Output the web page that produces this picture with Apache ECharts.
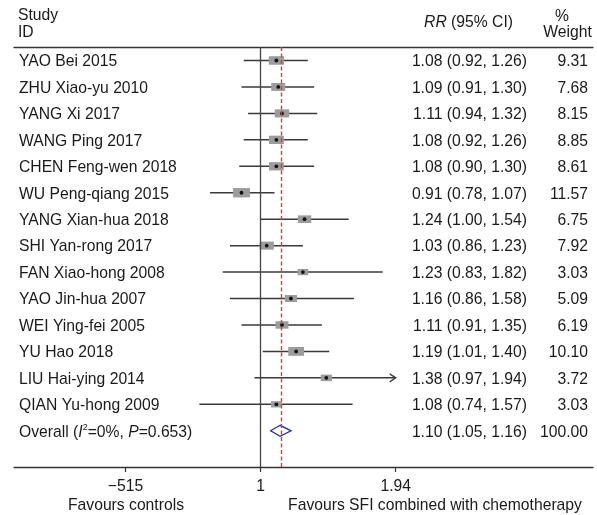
<!DOCTYPE html>
<html><head><meta charset="utf-8">
<script src="https://cdn.jsdelivr.net/npm/echarts@6/dist/echarts.min.js"></script>
<style>html,body{margin:0;padding:0;background:#fff}#c{width:597px;height:515px}</style>
</head><body><div id="c"></div>
<script>
// ---- data ----
const studies = ["YAO Bei 2015","ZHU Xiao-yu 2010","YANG Xi 2017","WANG Ping 2017","CHEN Feng-wen 2018","WU Peng-qiang 2015","YANG Xian-hua 2018","SHI Yan-rong 2017","FAN Xiao-hong 2008","YAO Jin-hua 2007","WEI Ying-fei 2005","YU Hao 2018","LIU Hai-ying 2014","QIAN Yu-hong 2009"];
const rr     = [1.08,1.09,1.11,1.08,1.08,0.91,1.24,1.03,1.23,1.16,1.11,1.19,1.38,1.08];
const lower  = [0.92,0.91,0.94,0.92,0.90,0.78,1.00,0.86,0.83,0.86,0.91,1.01,0.97,0.74];
const upper  = [1.26,1.30,1.32,1.26,1.30,1.07,1.54,1.23,1.82,1.58,1.35,1.40,1.94,1.57];
const weights = [9.31,7.68,8.15,8.85,8.61,11.57,6.75,7.92,3.03,5.09,6.19,10.10,3.72,3.03];
const arrowRight = [false,false,false,false,false,false,false,false,false,false,false,false,true,false];
const overallRR = 1.10, overallLower = 1.05, overallUpper = 1.16, overallWeight = 100.00;
const hetI2 = "0%", hetP = "0.653";
const tickValues = [0.515, 1, 1.94];
const tickLabels = ["\u2212515", "1", "1.94"];

// ---- layout ----
const FONT = "Liberation Sans";
const FS = 15.7;
const XMIN = -1.2110, XMAX = 1.6311;
const fmt2 = v => v.toFixed(2);
const ciText = (r,l,u) => fmt2(r) + " (" + fmt2(l) + ", " + fmt2(u) + ")";

const nRows = studies.length;
const studyData = studies.map((s,i) => [Math.log(rr[i]), Math.log(lower[i]), Math.log(upper[i]), weights[i], i, arrowRight[i] ? 1 : 0]);
const tableData = studies.map((s,i) => [0, i]);
tableData.push([0, nRows]);

const chart = echarts.init(document.getElementById('c'), null, {renderer:'canvas'});

const textStyleBase = {fontFamily: FONT, fontSize: FS, fill: '#1a1a1a'};

chart.setOption({
  animation: false,
  backgroundColor: '#fff',
  grid: {left: 14, right: 4, top: 47, bottom: 48},
  xAxis: [{
    type: 'value', min: XMIN, max: XMAX, position: 'bottom',
    axisLine: {show: true, onZero: false, lineStyle: {color: '#333', width: 1.3}},
    axisTick: {show: true, customValues: tickValues.map(Math.log), length: 5, lineStyle: {color: '#333', width: 1.2}},
    axisLabel: {show: true, customValues: tickValues.map(Math.log), margin: 12,
      fontFamily: FONT, fontSize: FS, color: '#1a1a1a',
      formatter: v => { let k = tickValues.findIndex(t => Math.abs(Math.log(t) - v) < 1e-6); return k >= 0 ? tickLabels[k] : ''; }},
    splitLine: {show: false}
  }, {
    type: 'value', min: XMIN, max: XMAX, position: 'top',
    axisLine: {show: true, onZero: false, lineStyle: {color: '#333', width: 1.3}},
    axisTick: {show: false}, axisLabel: {show: false}, splitLine: {show: false}
  }],
  yAxis: {type: 'value', min: -0.51, max: 15.37, inverse: true, show: false},
  series: [
    { // null line
      type: 'scatter', data: [], z: 1, silent: true,
      markLine: {silent: true, symbol: 'none', label: {show: false},
        lineStyle: {color: '#444', width: 1.3, type: 'solid'},
        data: [{xAxis: Math.log(1)}]}
    },
    { // studies
      type: 'custom', z: 2, data: studyData, encode: {x: [0,1,2], y: 4},
      renderItem: (params, api) => {
        const i = api.value(4);
        const c = api.coord([api.value(0), i]);
        const l = api.coord([api.value(1), i])[0];
        const u = api.coord([api.value(2), i])[0];
        const w = api.value(3);
        const bw = 8.5 + 0.72 * w, bh = 5.2 + 0.36 * w;
        const children = [
          {type: 'line', shape: {x1: l, y1: c[1], x2: u, y2: c[1]}, style: {stroke: '#3a3a3a', lineWidth: 1.5}},
          {type: 'rect', shape: {x: c[0] - bw/2, y: c[1] - bh/2, width: bw, height: bh}, style: {fill: '#9c9c9c'}},
          {type: 'circle', shape: {cx: c[0], cy: c[1], r: 1.9}, style: {fill: '#111'}}
        ];
        if (api.value(5) === 1) {
          children.push({type: 'polyline', shape: {points: [[u - 6, c[1] - 4], [u, c[1]], [u - 6, c[1] + 4]]}, style: {stroke: '#3a3a3a', lineWidth: 1.3, fill: null}});
        }
        return {type: 'group', children};
      }
    },
    { // overall line (red dashed)
      type: 'scatter', data: [], z: 3, silent: true,
      markLine: {silent: true, symbol: 'none', label: {show: false},
        lineStyle: {color: '#e23b33', width: 1.4, type: [4, 2.5]},
        data: [{xAxis: Math.log(overallRR)}]}
    },
    { // overall diamond
      type: 'custom', z: 4,
      data: [[Math.log(overallRR), Math.log(overallLower), Math.log(overallUpper), nRows]],
      encode: {x: [0,1,2], y: 3},
      renderItem: (params, api) => {
        const y = api.value(3);
        const c = api.coord([api.value(0), y]);
        const l = api.coord([api.value(1), y])[0];
        const u = api.coord([api.value(2), y])[0];
        const h = 5.5;
        return {type: 'polygon', shape: {points: [[l, c[1]], [c[0], c[1] - h], [u, c[1]], [c[0], c[1] + h]]},
          style: {stroke: '#2a3598', lineWidth: 1.4, fill: null}};
      }
    },
    { // table text
      type: 'custom', z: 5, data: tableData, encode: {y: 1},
      renderItem: (params, api) => {
        const i = api.value(1);
        const y = api.coord([0, i])[1] + 1.5;
        let name, ci, wt;
        if (i < nRows) {
          name = {type: 'text', x: 19, y: y, style: Object.assign({text: studies[i], textAlign: 'left', textVerticalAlign: 'middle'}, textStyleBase)};
          ci = ciText(rr[i], lower[i], upper[i]);
          wt = fmt2(weights[i]);
        } else {
          name = {type: 'text', x: 19, y: y, style: {
            text: '{n|Overall (}{it|I}{sup|2}{n|=' + hetI2 + ', }{it|P}{n|=' + hetP + ')}',
            textAlign: 'left', textVerticalAlign: 'middle',
            rich: {
              n: {fontFamily: FONT, fontSize: FS, fill: '#1a1a1a', lineHeight: 18},
              it: {fontFamily: FONT, fontSize: FS, fontStyle: 'italic', fill: '#1a1a1a', lineHeight: 18},
              sup: {fontFamily: FONT, fontSize: 9, fill: '#1a1a1a', lineHeight: 18, verticalAlign: 'top', padding: [0, 0, 7, 0]}
            }}};
          ci = ciText(overallRR, overallLower, overallUpper);
          wt = fmt2(overallWeight);
        }
        return {type: 'group', children: [
          name,
          {type: 'text', x: 527, y: y, style: Object.assign({text: ci, textAlign: 'right', textVerticalAlign: 'middle'}, textStyleBase)},
          {type: 'text', x: 588, y: y, style: Object.assign({text: wt, textAlign: 'right', textVerticalAlign: 'middle'}, textStyleBase)}
        ]};
      }
    }
  ],
  graphic: [
    {type: 'text', x: 18, y: 16, style: Object.assign({text: 'Study', textVerticalAlign: 'middle'}, textStyleBase)},
    {type: 'text', x: 18, y: 33, style: Object.assign({text: 'ID', textVerticalAlign: 'middle'}, textStyleBase)},
    {type: 'text', x: 513, y: 23, style: {text: '{it|RR}{n| (95% CI)}', textAlign: 'right', textVerticalAlign: 'middle',
      rich: {it: {fontFamily: FONT, fontSize: FS, fontStyle: 'italic', fill: '#1a1a1a'}, n: {fontFamily: FONT, fontSize: FS, fill: '#1a1a1a'}}}},
    {type: 'text', x: 562, y: 17, style: Object.assign({text: '%', textAlign: 'center', textVerticalAlign: 'middle'}, textStyleBase)},
    {type: 'text', x: 567.5, y: 33, style: Object.assign({text: 'Weight', textAlign: 'center', textVerticalAlign: 'middle'}, textStyleBase)},
    {type: 'text', x: 126, y: 506, style: Object.assign({text: 'Favours controls', textAlign: 'center', textVerticalAlign: 'middle'}, textStyleBase)},
    {type: 'text', x: 435, y: 506, style: Object.assign({text: 'Favours SFI combined with chemotherapy', textAlign: 'center', textVerticalAlign: 'middle'}, textStyleBase)}
  ]
});
</script>
</body></html>
